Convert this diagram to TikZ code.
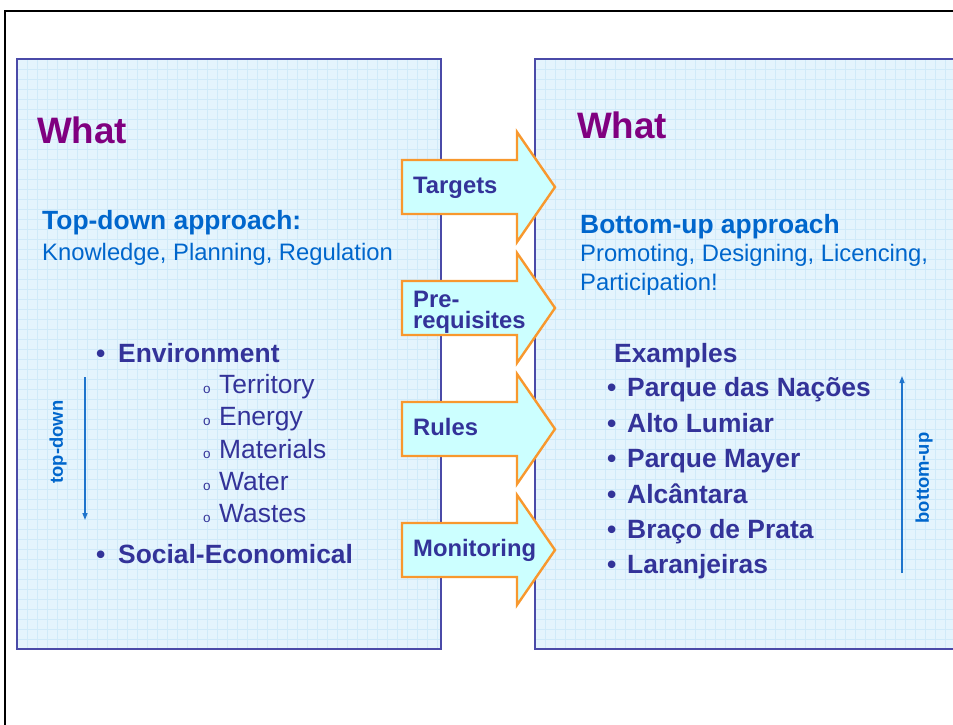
\documentclass[tikz,border=0pt]{standalone}
\usepackage{fontspec}
\setmainfont{Liberation Sans}
\usetikzlibrary{arrows.meta}
\definecolor{panelfill}{HTML}{E4F4FD}
\definecolor{gridc}{HTML}{D0EAF9}
\definecolor{panelborder}{HTML}{4A4AA8}
\definecolor{arrfill}{HTML}{CCFFFF}
\definecolor{arrdraw}{HTML}{F8982E}
\definecolor{itc}{HTML}{333399}
\definecolor{whatc}{HTML}{800080}
\definecolor{apc}{HTML}{0066CC}
\definecolor{dirc}{HTML}{1F74CC}
\tikzset{
  panel/.style={fill=panelfill, draw=panelborder, line width=1.5pt},
  bigarrow/.style={fill=arrfill, draw=arrdraw, line width=2.4pt, line join=miter},
  txt/.style={inner sep=0pt, anchor=base west},
  whattxt/.style={txt, font=\fontsize{36.8}{40}\selectfont\bfseries, text=whatc},
  headtxt/.style={txt, font=\fontsize{26.4}{30}\selectfont\bfseries, text=apc},
  subtxt/.style={txt, font=\fontsize{23.8}{28}\selectfont, text=apc},
  itemtxt/.style={txt, font=\fontsize{26.4}{30}\selectfont\bfseries, text=itc},
  subitemtxt/.style={txt, font=\fontsize{26.4}{30}\selectfont, text=itc},
  bul/.style={txt, font=\fontsize{26.4}{30}\selectfont\bfseries, text=itc},
  subbul/.style={txt, font=\fontsize{13.5}{15}\selectfont, text=itc},
  arrlabel/.style={inner sep=0pt, font=\fontsize{23.8}{21}\selectfont\bfseries, text=itc, align=left},
  dirlabel/.style={inner sep=0pt, font=\fontsize{18.4}{20}\selectfont\bfseries, text=apc, rotate=90},
  dirarrow/.style={draw=dirc, line width=1.3pt, -{Triangle[length=7pt,width=5pt]}}
}
\begin{document}
\begin{tikzpicture}[x=1pt,y=-1pt]
\useasboundingbox (0,0) rectangle (953,724);
\begin{scope}
\clip (0,0) rectangle (953,724);
\fill[white] (0,0) rectangle (953,724);
% outer frame
\draw[line width=2.6pt] (5,730) -- (5,11) -- (960,11);
% panels
\fill[panelfill] (17,59) rectangle (441,649);
\fill[panelfill] (535,59) rectangle (965,649);
\foreach \x in {27,37,...,437} \draw[gridc, line width=0.7pt] (\x,59) -- (\x,649);
\foreach \y in {69,79,...,645} \draw[gridc, line width=0.7pt] (17,\y) -- (441,\y);
\foreach \x in {545,555,...,955} \draw[gridc, line width=0.7pt] (\x,59) -- (\x,649);
\foreach \y in {69,79,...,645} \draw[gridc, line width=0.7pt] (535,\y) -- (965,\y);
\draw[panelborder, line width=1.5pt] (17,59) rectangle (441,649);
\draw[panelborder, line width=1.5pt] (535,59) rectangle (965,649);

% big arrows
\foreach \c in {187,308,429,550}
  \draw[bigarrow] (402,\c-27) -- (517,\c-27) -- (517,\c-55) -- (555,\c) -- (517,\c+55) -- (517,\c+27) -- (402,\c+27) -- cycle;
\node[arrlabel, anchor=base west] (targets) at (413,193) {Targets};
\node[arrlabel, anchor=west] (prereq) at (413,312) {Pre-\\requisites};
\node[arrlabel, anchor=base west] (rules) at (413,435) {Rules};
\node[arrlabel, anchor=base west] (monit) at (413,556) {Monitoring};

% left panel text
\node[whattxt] (whatL) at (37,143) {What};
\node[headtxt] (topdownhead) at (42,229) {Top-down approach:};
\node[subtxt] (topdownsub) at (42,260) {Knowledge, Planning, Regulation};
\node[bul] (b1) at (96,362) {•};
\node[itemtxt] (env) at (118,362) {Environment};
\node[subbul] (s1) at (203,393) {o};
\node[subitemtxt] (terr) at (219,393) {Territory};
\node[subbul] (s2) at (203,425) {o};
\node[subitemtxt] (ener) at (219,425) {Energy};
\node[subbul] (s3) at (203,458) {o};
\node[subitemtxt] (mat) at (219,458) {Materials};
\node[subbul] (s4) at (203,490) {o};
\node[subitemtxt] (wat) at (219,490) {Water};
\node[subbul] (s5) at (203,522) {o};
\node[subitemtxt] (wast) at (219,522) {Wastes};
\node[bul] (b2) at (96,563) {•};
\node[itemtxt] (soc) at (118,563) {Social-Economical};
\coordinate (tdA) at (85,377);
\coordinate (tdB) at (85,520);
\draw[dirarrow] (tdA) -- (tdB);
\node[dirlabel] (tdlabel) at (58,442) {top-down};

% right panel text
\node[whattxt] (whatR) at (577,138) {What};
\node[headtxt] (buhead) at (580,233) {Bottom-up approach};
\node[subtxt] (busub1) at (580,261) {Promoting, Designing, Licencing,};
\node[subtxt] (busub2) at (580,290) {Participation!};
\node[itemtxt] (ex) at (614,362) {Examples};
\node[bul] (r1) at (607,396) {•};
\node[itemtxt] (pn) at (627,396) {Parque das Nações};
\node[bul] (r2) at (607,432) {•};
\node[itemtxt] (al) at (627,432) {Alto Lumiar};
\node[bul] (r3) at (607,467) {•};
\node[itemtxt] (pm) at (627,467) {Parque Mayer};
\node[bul] (r4) at (607,503) {•};
\node[itemtxt] (alc) at (627,503) {Alcântara};
\node[bul] (r5) at (607,538) {•};
\node[itemtxt] (bp) at (627,538) {Braço de Prata};
\node[bul] (r6) at (607,573) {•};
\node[itemtxt] (lar) at (627,573) {Laranjeiras};
\coordinate (buA) at (902,573);
\coordinate (buB) at (902,376);
\draw[dirarrow] (buA) -- (buB);
\node[dirlabel] (bulabel) at (924,478) {bottom-up};
\end{scope}
\end{tikzpicture}
\end{document}
